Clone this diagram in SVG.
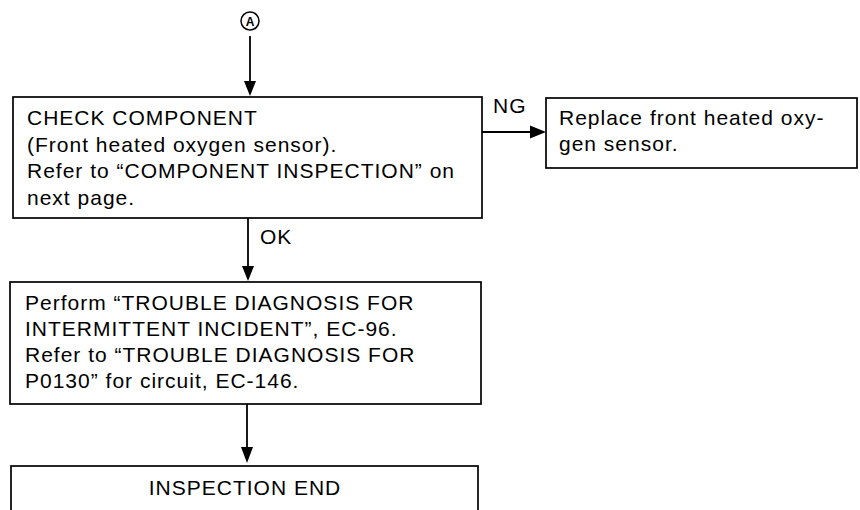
<svg xmlns="http://www.w3.org/2000/svg" width="860" height="510" viewBox="0 0 860 510">
<defs>
<style>
.box{fill:#fff;stroke:#000;stroke-width:1.7}
.t{font-family:"Liberation Sans",Arial,sans-serif;font-size:21px;letter-spacing:1px;fill:#000}
.ln{stroke:#000;stroke-width:1.8;fill:none}
.ah{fill:#000}
</style>
</defs>
<rect width="860" height="510" fill="#fff"/>
<g id="connectors">
<circle cx="250" cy="21" r="9" fill="none" stroke="#000" stroke-width="1.5"/>
<text x="250" y="25.5" text-anchor="middle" style="font-family:'Liberation Sans',Arial,sans-serif;font-size:12px;font-weight:bold">A</text>
<line class="ln" x1="250" y1="36" x2="250" y2="84"/>
<polygon class="ah" points="244,81 256,81 250,96"/>
<line class="ln" x1="482" y1="132" x2="532" y2="132"/>
<polygon class="ah" points="530,125.5 530,138.5 546,132"/>
<text class="t" x="493" y="113">NG</text>
<line class="ln" x1="248" y1="218" x2="248" y2="268"/>
<polygon class="ah" points="242,266 254,266 248,281"/>
<text class="t" x="260" y="244">OK</text>
<line class="ln" x1="247" y1="404" x2="247" y2="450"/>
<polygon class="ah" points="241,447 253,447 247,463"/>
</g>
<g id="check">
<rect class="box" x="13" y="97" width="469" height="121"/>
<text class="t" x="27" y="125">CHECK COMPONENT</text>
<text class="t" x="27" y="152">(Front heated oxygen sensor).</text>
<text class="t" x="27" y="178">Refer to “COMPONENT INSPECTION” on</text>
<text class="t" x="27" y="205">next page.</text>
</g>
<g id="replace">
<rect class="box" x="546" y="98" width="311" height="70"/>
<text class="t" x="559" y="125">Replace front heated oxy-</text>
<text class="t" x="559" y="151">gen sensor.</text>
</g>
<g id="perform">
<rect class="box" x="10" y="282" width="471" height="122"/>
<text class="t" x="25" y="310">Perform “TROUBLE DIAGNOSIS FOR</text>
<text class="t" x="25" y="336">INTERMITTENT INCIDENT”, EC-96.</text>
<text class="t" x="25" y="362">Refer to “TROUBLE DIAGNOSIS FOR</text>
<text class="t" x="25" y="388">P0130” for circuit, EC-146.</text>
</g>
<g id="end">
<rect class="box" x="11" y="466" width="467" height="60"/>
<text class="t" x="245" y="495" text-anchor="middle">INSPECTION END</text>
</g>
</svg>
